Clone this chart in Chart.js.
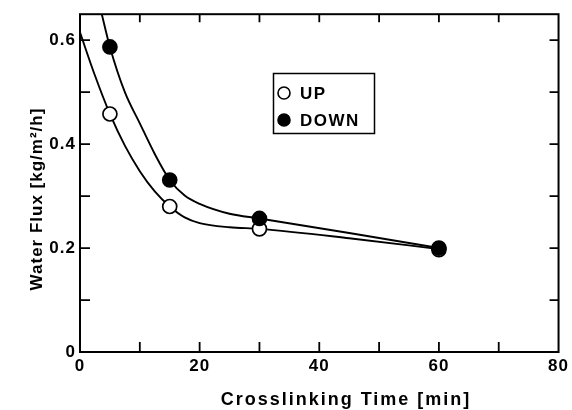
<!DOCTYPE html>
<html><head><meta charset="utf-8">
<script src="https://cdn.jsdelivr.net/npm/chart.js@4/dist/chart.umd.min.js"></script>
<style>html,body{margin:0;padding:0;background:#fff;} canvas{display:block;}</style>
</head><body>
<canvas id="c" width="572" height="410"></canvas>
<script>
// ---- data ----
const crosslinkTime = [5, 15, 30, 60];
const fluxUp = [0.458, 0.280, 0.237, 0.197];
const fluxDown = [0.587, 0.331, 0.257, 0.200];
// traced points of the drawn guide curves
const fitUpTime = [0, 2.5, 5, 7.5, 10, 12.5, 15, 17.5, 20, 25, 30, 45, 60];
const fitUpFlux = [0.615, 0.532, 0.458, 0.397, 0.348, 0.309, 0.280, 0.259, 0.248, 0.240, 0.237, 0.219, 0.198];
const fitDownTime = [3.6, 5, 7.5, 10, 12.5, 15, 17.5, 20, 25, 30, 45, 60];
const fitDownFlux = [0.652, 0.587, 0.500, 0.440, 0.381, 0.331, 0.301, 0.285, 0.266, 0.257, 0.229, 0.200];
const xTicks = [0, 10, 20, 30, 40, 50, 60, 70, 80];
const xTickLabels = [0, 20, 40, 60, 80];
const yTicks = [0, 0.1, 0.2, 0.3, 0.4, 0.5, 0.6];
const yTickLabels = [0, 0.2, 0.4, 0.6];
const seriesNames = ['UP', 'DOWN'];
const xTitle = 'Crosslinking Time [min]';
const yTitle = 'Water Flux [kg/m²/h]';

const FONT = '"Liberation Sans", Arial, Helvetica, sans-serif';
Chart.defaults.font.family = FONT;
Chart.defaults.color = '#000';

const toXY = (xs, ys) => xs.map((x, i) => ({x: x, y: ys[i]}));
const has = (arr, v) => arr.some(a => Math.abs(a - v) < 1e-9);

const framePlugin = {
  id: 'frame',
  beforeDraw(chart) { chart.ctx.letterSpacing = '1px'; },
  afterDraw(chart) {
    const ctx = chart.ctx;
    const a = chart.chartArea;
    const xs = chart.scales.x, ys = chart.scales.y;
    ctx.save();
    ctx.letterSpacing = '0px';
    ctx.strokeStyle = '#000';
    ctx.lineWidth = 2;
    ctx.strokeRect(a.left, a.top, a.right - a.left, a.bottom - a.top);
    ctx.lineWidth = 1.8;
    ctx.beginPath();
    xTicks.forEach(v => {
      if (v <= xs.min || v >= xs.max) return;
      const px = xs.getPixelForValue(v);
      ctx.moveTo(px, a.bottom); ctx.lineTo(px, a.bottom - 10);
      ctx.moveTo(px, a.top); ctx.lineTo(px, a.top + 8);
    });
    yTicks.forEach(v => {
      if (v <= ys.min || v >= ys.max) return;
      const py = ys.getPixelForValue(v);
      ctx.moveTo(a.left, py); ctx.lineTo(a.left + 10, py);
      ctx.moveTo(a.right, py); ctx.lineTo(a.right - 9, py);
    });
    ctx.stroke();

    // axis titles
    ctx.fillStyle = '#000';
    ctx.font = 'bold 18px ' + FONT;
    ctx.textAlign = 'center';
    ctx.textBaseline = 'middle';
    ctx.letterSpacing = '2px';
    ctx.fillText(xTitle, 346, 400);
    ctx.save();
    ctx.translate(37.5, 199);
    ctx.rotate(-Math.PI / 2);
    ctx.font = 'bold 17px ' + FONT;
    ctx.letterSpacing = '1px';
    ctx.fillText(yTitle, 0, 0);
    ctx.restore();

    // legend box
    ctx.lineWidth = 1.5;
    ctx.strokeRect(273.5, 73.5, 101, 60);
    const ds = [chart.data.datasets[2], chart.data.datasets[3]];
    const rows = [93, 120];
    ctx.font = 'bold 17px ' + FONT;
    ctx.textAlign = 'left';
    ctx.letterSpacing = '1.5px';
    ds.forEach((d, i) => {
      ctx.beginPath();
      ctx.arc(284, rows[i], 6, 0, Math.PI * 2);
      ctx.fillStyle = d.backgroundColor;
      ctx.fill();
      ctx.lineWidth = 1.6;
      ctx.strokeStyle = '#000';
      ctx.stroke();
      ctx.fillStyle = '#000';
      ctx.fillText(d.label, 300, rows[i] + 1);
    });
    ctx.restore();
  }
};

new Chart(document.getElementById('c'), {
  type: 'scatter',
  data: {
    datasets: [
      { label: 'UP fit', data: toXY(fitUpTime, fitUpFlux), showLine: true,
        borderColor: '#000', borderWidth: 1.9, pointRadius: 0,
        cubicInterpolationMode: 'monotone', order: 2 },
      { label: 'DOWN fit', data: toXY(fitDownTime, fitDownFlux), showLine: true,
        borderColor: '#000', borderWidth: 1.9, pointRadius: 0,
        cubicInterpolationMode: 'monotone', order: 2 },
      { label: seriesNames[0], data: toXY(crosslinkTime, fluxUp),
        backgroundColor: '#fff', borderColor: '#000', borderWidth: 1.7,
        pointRadius: 7, pointHoverRadius: 7, order: 1 },
      { label: seriesNames[1], data: toXY(crosslinkTime, fluxDown),
        backgroundColor: '#000', borderColor: '#000', borderWidth: 1.7,
        pointRadius: 7, pointHoverRadius: 7, order: 0 }
    ]
  },
  options: {
    responsive: false,
    animation: false,
    devicePixelRatio: 1,
    layout: { padding: { left: 0, right: 13, top: 14, bottom: 0 } },
    plugins: { legend: { display: false }, tooltip: { enabled: false } },
    scales: {
      x: {
        type: 'linear', min: 0, max: 80,
        afterBuildTicks: s => { s.ticks = xTicks.map(v => ({value: v})); },
        afterFit: s => { s.height = 58; },
        grid: { display: false, drawTicks: false },
        border: { display: false },
        ticks: { padding: 4, maxRotation: 0, autoSkip: false,
                 font: { size: 17, weight: 'bold' },
                 callback: v => has(xTickLabels, v) ? String(v) : '' }
      },
      y: {
        type: 'linear', min: 0, max: 0.65,
        afterBuildTicks: s => { s.ticks = yTicks.map(v => ({value: v})); },
        afterFit: s => { s.width = 80; },
        grid: { display: false, drawTicks: false },
        border: { display: false },
        ticks: { padding: 4, autoSkip: false, font: { size: 17, weight: 'bold' },
                 callback: v => has(yTickLabels, v) ? (v === 0 ? '0' : v.toFixed(1)) : '' }
      }
    }
  },
  plugins: [framePlugin]
});
</script>
</body></html>
